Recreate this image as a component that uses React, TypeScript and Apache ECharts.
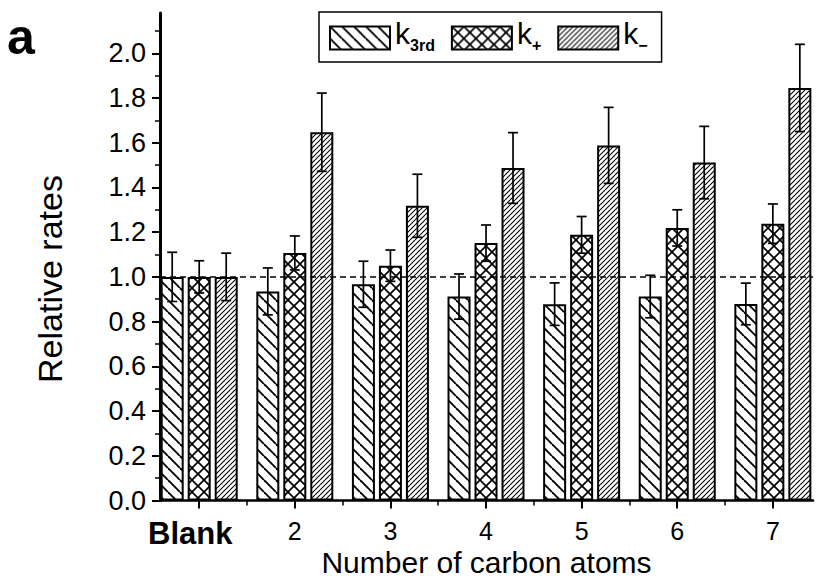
import React, { useEffect, useRef } from "react";
import * as echarts from "echarts";

const categories = ["Blank", "2", "3", "4", "5", "6", "7"];
const xPositions = [1, 2, 3, 4, 5, 6, 7];
const minorXTicks = [1.5, 2.5, 3.5, 4.5, 5.5, 6.5];
const yTicks = [0, 0.2, 0.4, 0.6, 0.8, 1.0, 1.2, 1.4, 1.6, 1.8, 2.0];
const minorYTicks = [0.1, 0.3, 0.5, 0.7, 0.9, 1.1, 1.3, 1.5, 1.7, 1.9, 2.1];

const k3rd = [1.0, 0.935, 0.967, 0.912, 0.878, 0.912, 0.879];
const kPlus = [1.0, 1.107, 1.05, 1.151, 1.188, 1.219, 1.238];
const kMinus = [1.0, 1.647, 1.318, 1.487, 1.588, 1.511, 1.845];
const k3rdErr = [0.11, 0.105, 0.103, 0.101, 0.095, 0.095, 0.093];
const kPlusErr = [0.072, 0.076, 0.07, 0.081, 0.082, 0.081, 0.088];
const kMinusErr = [0.106, 0.175, 0.141, 0.158, 0.17, 0.162, 0.195];

const seriesNames = ["k3rd", "k+", "k-"];

function makeHatch(kind: string) {
  const s = kind === "back" ? 12 : kind === "cross" ? 12 : 5;
  const c = document.createElement("canvas");
  c.width = s;
  c.height = s;
  const ctx = c.getContext("2d")!;
  ctx.fillStyle = "#fff";
  ctx.fillRect(0, 0, s, s);
  ctx.strokeStyle = "#000";
  ctx.lineWidth = kind === "back" ? 1.9 : kind === "cross" ? 1.7 : 1.1;
  const back = () => {
    for (let k = -1; k <= 1; k++) {
      ctx.beginPath();
      ctx.moveTo(0, k * s);
      ctx.lineTo(s, s + k * s);
      ctx.stroke();
    }
  };
  const fwd = () => {
    for (let k = 0; k <= 2; k++) {
      ctx.beginPath();
      ctx.moveTo(0, k * s);
      ctx.lineTo(s, k * s - s);
      ctx.stroke();
    }
  };
  if (kind === "back") back();
  else if (kind === "fwd") fwd();
  else {
    back();
    fwd();
  }
  return { image: c, repeat: "repeat", imageWidth: s, imageHeight: s } as any;
}

export default function App() {
  const ref = useRef<HTMLDivElement>(null);
  useEffect(() => {
    if (!ref.current) return;
    const chart = echarts.init(ref.current, null, { renderer: "svg" });
    const fills = [makeHatch("back"), makeHatch("cross"), makeHatch("fwd")];
    const values = [k3rd, kPlus, kMinus];
    const errs = [k3rdErr, kPlusErr, kMinusErr];
    const barW = 23;
    const gapPx = 4;
    const offsets = [-(barW + gapPx), 0, barW + gapPx];
    const font = "'Liberation Sans', Arial, sans-serif";

    const barSeries = values.map((vals, i) => ({
      name: seriesNames[i],
      type: "bar",
      barWidth: barW,
      barGap: (gapPx / barW) * 100 + "%",
      data: vals.map((v, j) => [xPositions[j], v]),
      itemStyle: { color: fills[i], borderColor: "#000", borderWidth: 2 },
      z: 2,
    }));

    const errSeries = values.map((vals, i) => ({
      name: seriesNames[i] + "_err",
      type: "custom",
      z: 4,
      data: vals.map((v, j) => [xPositions[j], v, errs[i][j]]),
      renderItem: (params: any, api: any) => {
        const x = api.value(0);
        const v = api.value(1);
        const e = api.value(2);
        const top = api.coord([x, v + e]);
        const bot = api.coord([x, v - e]);
        const cx = top[0] + offsets[i];
        const cap = 5;
        const st = { stroke: "#000", lineWidth: 1.7 };
        return {
          type: "group",
          children: [
            { type: "line", shape: { x1: cx, y1: top[1], x2: cx, y2: bot[1] }, style: st },
            { type: "line", shape: { x1: cx - cap, y1: top[1], x2: cx + cap, y2: top[1] }, style: st },
            { type: "line", shape: { x1: cx - cap, y1: bot[1], x2: cx + cap, y2: bot[1] }, style: st },
          ],
        };
      },
      ...(i === 2
        ? {
            markLine: {
              silent: true,
              symbol: ["none", "none"],
              label: { show: false },
              lineStyle: { type: [6, 4], color: "#000", width: 1.6 },
              data: [{ yAxis: 1.0 }],
            },
          }
        : {}),
    }));

    const option: any = {
      animation: false,
      backgroundColor: "#fff",
      textStyle: { fontFamily: font },
      grid: { left: 160, top: 13, right: 7, bottom: 80.5, containLabel: false, outerBoundsMode: "none" },
      legend: {
        data: seriesNames,
        left: 319,
        top: 12,
        icon: "rect",
        itemWidth: 60,
        itemHeight: 23,
        itemGap: 16,
        selectedMode: false,
        borderColor: "#000",
        borderWidth: 1.5,
        borderRadius: 0,
        padding: [6, 14, 9, 10],
        itemStyle: { borderColor: "#000", borderWidth: 2 },
        formatter: (name: string) => {
          if (name === "k3rd") return "{k|k}{s|3rd}";
          if (name === "k+") return "{k|k}{s|+}";
          return "{k|k}{s|−}";
        },
        textStyle: {
          fontFamily: font,
          color: "#000",
          rich: {
            k: { fontSize: 30, fontFamily: font, color: "#000", verticalAlign: "bottom", lineHeight: 30, padding: [0, 0, 5, 0] },
            s: { fontSize: 16, fontFamily: font, fontWeight: "bold", color: "#000", verticalAlign: "bottom", lineHeight: 10 },
          },
        },
      },
      xAxis: [
        {
          type: "value",
          min: 0.59,
          max: 7.42,
          axisLine: { show: true, lineStyle: { color: "#000", width: 2.5 } },
          axisTick: { show: true, inside: false, length: 8, lineStyle: { color: "#000", width: 2 }, customValues: xPositions },
          axisLabel: {
            show: true,
            margin: 17,
            customValues: xPositions,
            formatter: (v: number) => {
              const idx = xPositions.indexOf(v);
              const t = categories[idx];
              return idx === 0 ? "{b|" + t + "}" : "{n|" + t + "}";
            },
            rich: {
              b: { fontSize: 31, fontWeight: "bold", fontFamily: font, color: "#000", padding: [0, 18, 0, 0] },
              n: { fontSize: 25, lineHeight: 26, fontFamily: font, color: "#000" },
            },
          },
          splitLine: { show: false },
          name: "Number of carbon atoms",
          nameLocation: "middle",
          nameGap: 47,
          nameMoveOverlap: false,
          nameTextStyle: { fontSize: 30, lineHeight: 30, color: "#000", fontFamily: font },
        },
        {
          type: "value",
          min: 0.59,
          max: 7.42,
          position: "bottom",
          axisLine: { show: false },
          axisTick: { show: true, inside: false, length: 5, lineStyle: { color: "#000", width: 1.5 }, customValues: minorXTicks },
          axisLabel: { show: false },
          splitLine: { show: false },
        },
      ],
      yAxis: [
        {
          type: "value",
          min: 0,
          max: 2.18,
          axisLine: { show: true, lineStyle: { color: "#000", width: 3 } },
          axisTick: { show: true, inside: false, length: 8, lineStyle: { color: "#000", width: 2 }, customValues: yTicks },
          axisLabel: {
            show: true,
            margin: 14,
            customValues: yTicks,
            formatter: (v: number) => v.toFixed(1),
            fontSize: 27,
            color: "#000",
            fontFamily: font,
          },
          splitLine: { show: false },
        },
        {
          type: "value",
          min: 0,
          max: 2.18,
          position: "left",
          axisLine: { show: false },
          axisTick: { show: true, inside: false, length: 5, lineStyle: { color: "#000", width: 1.5 }, customValues: minorYTicks },
          axisLabel: { show: false },
          splitLine: { show: false },
        },
      ],
      graphic: [
        {
          type: "text",
          left: 7,
          top: 12,
          style: { text: "a", fontSize: 50, fontWeight: "bold", fill: "#000", fontFamily: font },
        },
        {
          type: "text",
          x: 50,
          y: 279,
          rotation: Math.PI / 2,
          style: {
            text: "Relative rates",
            fontSize: 34,
            fill: "#000",
            fontFamily: font,
            align: "center",
            verticalAlign: "middle",
          },
        },
      ],
      series: [...barSeries, ...errSeries],
    };
    chart.setOption(option);
    return () => chart.dispose();
  }, []);
  return (
    <div
      ref={ref}
      style={{ position: "absolute", left: 0, top: 0, width: 820, height: 581, background: "#fff" }}
    />
  );
}
